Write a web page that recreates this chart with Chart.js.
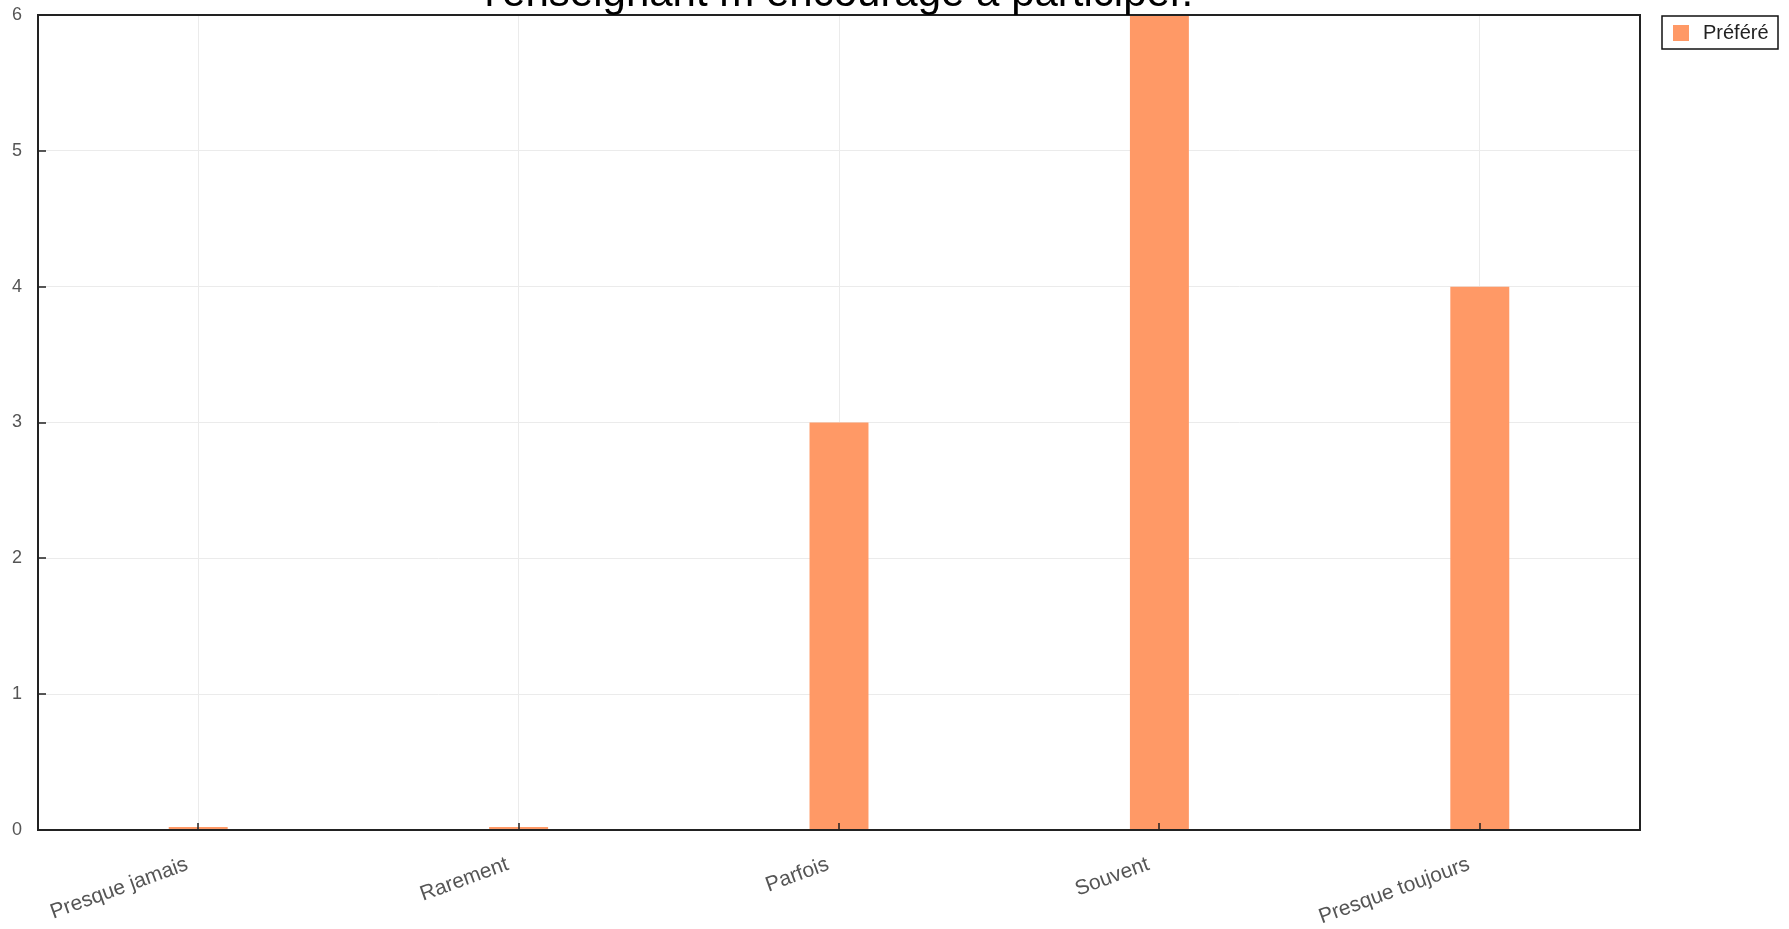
<!DOCTYPE html>
<html>
<head>
<meta charset="utf-8">
<script src="https://cdn.jsdelivr.net/npm/chart.js@4"></script>
<style>
  html, body { margin: 0; padding: 0; background: #fff; }
  canvas { display: block; }
</style>
</head>
<body>
<canvas id="grafica" width="1789" height="929"></canvas>
<script>
// datos del gráfico
const categories = ["Presque jamais", "Rarement", "Parfois", "Souvent", "Presque toujours"];
const prefere = [0, 0, 3, 6, 4];
const seriesLabel = "Préféré";
const yTicks = [0, 1, 2, 3, 4, 5, 6];
const titleText = "l'enseignant m encourage à participer.";

const barColor = "rgb(255, 153, 102)";
const fontFamily = "'Liberation Sans', Arial, sans-serif";

// borde, marcas interiores, título y leyenda
const extras = {
    id: "extras",
    afterDraw(chart) {
        const ctx = chart.ctx;
        const area = chart.chartArea;
        const xs = chart.scales.x, ys = chart.scales.y;
        ctx.save();
        ctx.strokeStyle = "#222";
        ctx.lineWidth = 1.5;
        // marcas hacia dentro
        ctx.beginPath();
        xs.ticks.forEach((t, i) => {
            const x = Math.round(xs.getPixelForTick(i));
            ctx.moveTo(x, area.bottom);
            ctx.lineTo(x, area.bottom - 7);
        });
        ys.ticks.forEach((t, i) => {
            const y = Math.round(ys.getPixelForTick(i));
            ctx.moveTo(area.left, y);
            ctx.lineTo(area.left + 8, y);
        });
        ctx.stroke();
        // marco
        ctx.lineWidth = 2;
        ctx.strokeStyle = "#222";
        ctx.strokeRect(area.left, area.top, area.right - area.left, area.bottom - area.top);

        // título (cortado arriba)
        ctx.fillStyle = "#000";
        ctx.font = "42px " + fontFamily;
        ctx.textAlign = "center";
        ctx.textBaseline = "alphabetic";
        ctx.fillText(titleText, (area.left + area.right) / 2, 6);

        // leyenda
        const lx = 1662, ly = 16, lw = 116, lh = 33;
        ctx.fillStyle = "#fff";
        ctx.fillRect(lx, ly, lw, lh);
        ctx.lineWidth = 1.5;
        ctx.strokeStyle = "#111";
        ctx.strokeRect(lx, ly, lw, lh);
        chart.data.datasets.forEach((ds, i) => {
            ctx.fillStyle = ds.backgroundColor;
            ctx.fillRect(lx + 11, ly + 9, 16, 16);
            ctx.fillStyle = "#222";
            ctx.font = "20px " + fontFamily;
            ctx.textAlign = "left";
            ctx.textBaseline = "middle";
            ctx.fillText(ds.label, lx + 41, ly + lh / 2 + 1);
        });
        ctx.restore();
    }
};

const ctx = document.getElementById("grafica").getContext("2d");
new Chart(ctx, {
    type: "bar",
    data: {
        labels: categories,
        datasets: [{
            label: seriesLabel,
            data: prefere,
            backgroundColor: barColor,
            borderWidth: 0,
            minBarLength: 3,
            barPercentage: 0.92,
            categoryPercentage: 0.2
        }]
    },
    options: {
        responsive: false,
        animation: false,
        layout: { padding: { top: 15, right: 149, left: 0, bottom: 0 } },
        plugins: {
            legend: { display: false },
            title: { display: false },
            tooltip: { enabled: false }
        },
        scales: {
            x: {
                offset: true,
                grid: { display: true, offset: false, color: "#ebebeb", lineWidth: 1, drawTicks: false },
                border: { display: false },
                ticks: {
                    color: "#555",
                    font: { family: fontFamily, size: 21 },
                    minRotation: 20,
                    maxRotation: 20,
                    padding: 18,
                    callback(value) { return this.getLabelForValue(value) + "  "; }
                },
                afterFit(axis) { axis.height = 99; }
            },
            y: {
                min: 0,
                max: 6,
                grid: { color: "#ebebeb", lineWidth: 1, drawTicks: false },
                border: { display: false },
                afterBuildTicks(axis) { axis.ticks = yTicks.map(v => ({ value: v })); },
                ticks: {
                    color: "#555",
                    font: { family: fontFamily, size: 18 },
                    padding: 16
                },
                afterFit(axis) {
                    axis.width = 38;
                    axis.paddingTop = 0;
                    axis.paddingBottom = 0;
                }
            }
        }
    },
    plugins: [extras]
});
</script>
</body>
</html>
